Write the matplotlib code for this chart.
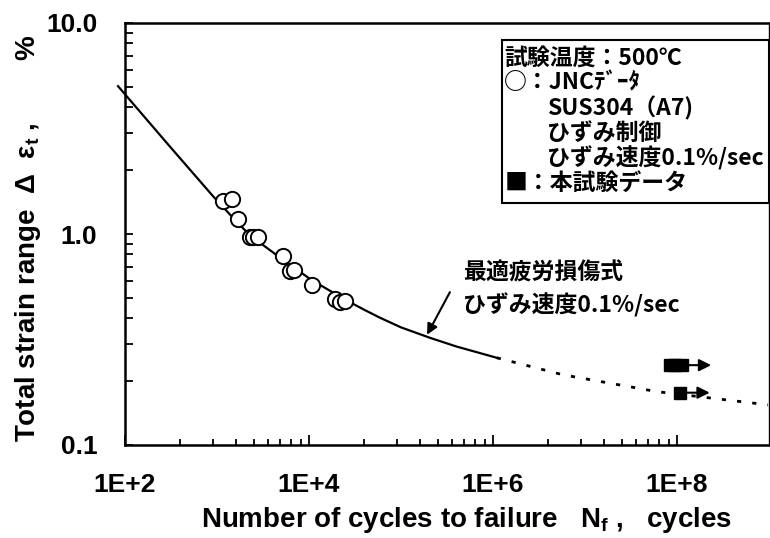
import matplotlib
matplotlib.use("Agg")
import matplotlib.pyplot as plt
from matplotlib.patches import Rectangle
from matplotlib.ticker import FixedLocator, FixedFormatter, NullFormatter

plt.rcParams["font.family"] = ["Liberation Sans", "DejaVu Sans"]
plt.rcParams["font.weight"] = "bold"
plt.rcParams["mathtext.default"] = "regular"

JP = ["Noto Sans CJK JP", "DejaVu Sans"]

# best-fit fatigue damage curve (strain rate 0.1%/sec)
curve_n = [84, 300, 906, 1500, 2290, 5000, 10500, 24600, 40000, 59100,
           1e5, 2.07e5, 4e5, 1.1e6]
curve_eps = [5.02, 2.63, 1.51, 1.19, 0.984, 0.765, 0.608, 0.489, 0.437, 0.401,
             0.361, 0.322, 0.293, 0.259]
# extrapolated part of the curve
extra_n = [1.1e6, 5.8e6, 6.07e7, 9.75e8]
extra_eps = [0.259, 0.215, 0.179, 0.155]

# JNC data, SUS304 (A7), strain controlled
jnc_n = [1150, 1470, 1680, 2290, 2490, 2810, 5260, 6210, 6920, 10700, 19200, 21700, 24600]
jnc_eps = [1.44, 1.47, 1.18, 0.97, 0.97, 0.97, 0.79, 0.67, 0.675, 0.575, 0.49, 0.475, 0.48]

# present test data (run-outs)
test_n = [8.3e7, 9.5e7, 1.12e8, 1.08e8]
test_eps = [0.239, 0.239, 0.239, 0.177]

x_major = [1e2, 1e4, 1e6, 1e8]
x_labels = ["1E+2", "1E+4", "1E+6", "1E+8"]
y_major = [0.1, 1.0, 10.0]
y_labels = ["0.1", "1.0", "10.0"]

fig = plt.figure(figsize=(7.7, 5.38), dpi=100)
ax = fig.add_axes([125 / 770, 93 / 538, 644 / 770, 422 / 538])
ax.set_xscale("log")
ax.set_yscale("log")
ax.set_xlim(1e2, 1e9)
ax.set_ylim(0.1, 10.0)

ax.plot(curve_n, curve_eps, color="black", lw=1.6, clip_on=False, zorder=2)
ax.plot(extra_n, extra_eps, color="black", lw=2.0, dashes=(1.5, 4), zorder=2)
ax.plot(jnc_n, jnc_eps, "o", ms=11, mfc="white", mec="black", mew=1.4, zorder=3)
ax.plot(test_n, test_eps, "s", ms=9, color="black", zorder=3)

# run-out arrows
for n, e in [(test_n[2], test_eps[2]), (test_n[3], test_eps[3])]:
    ax.annotate("", xy=(n * 2.1, e), xytext=(n * 1.05, e),
                arrowprops=dict(arrowstyle="-|>", color="black", lw=1.5,
                                mutation_scale=18, shrinkA=0, shrinkB=0))

# axis ticks: log-100 decades with minor ticks at k^2 spacing
x_minor = [b * k * k for b in [1e2, 1e4, 1e6] for k in range(2, 10)]
ax.xaxis.set_major_locator(FixedLocator(x_major))
ax.xaxis.set_major_formatter(FixedFormatter(x_labels))
ax.xaxis.set_minor_locator(FixedLocator(x_minor))
ax.xaxis.set_minor_formatter(NullFormatter())
ax.yaxis.set_major_locator(FixedLocator(y_major))
ax.yaxis.set_major_formatter(FixedFormatter(y_labels))
ax.yaxis.set_minor_locator(FixedLocator([b * k for b in [0.1, 1.0] for k in range(2, 10)]))
ax.yaxis.set_minor_formatter(NullFormatter())

ax.tick_params(which="both", direction="in", top=False, right=False, width=1.3)
ax.tick_params(axis="x", which="major", length=7, pad=20, labelsize=19)
ax.tick_params(axis="x", which="minor", length=4)
ax.tick_params(axis="y", which="major", length=6, pad=20, labelsize=19)
ax.tick_params(axis="y", which="minor", length=6)
for s in ["left", "bottom", "top"]:
    ax.spines[s].set_linewidth(1.8)
ax.spines["right"].set_linewidth(1.0)

ax.set_xlabel("Number of cycles to failure   N$_{f}$ ,   cycles",
              fontsize=20, fontweight="bold")
ax.set_ylabel("Total strain range  Δ  ε$_{t}$ ,        %",
              fontsize=20, fontweight="bold")
ax.xaxis.set_label_coords(0.53, -0.143)
ax.yaxis.set_label_coords(-0.127, 0.49)

# legend box
ax.add_patch(Rectangle((0.585, 0.573), 0.415, 0.387, transform=ax.transAxes,
                       fill=False, lw=1.5, ec="black", zorder=4))
legend_lines = [
    (0.589, 0.917, "試験温度：500℃"),
    (0.589, 0.858, "○：JNCﾃﾞｰﾀ"),
    (0.655, 0.799, "SUS304（A7)"),
    (0.655, 0.739, "ひずみ制御"),
    (0.655, 0.680, "ひずみ速度0.1%/sec"),
    (0.589, 0.621, "■：本試験データ"),
]
for x, y, t in legend_lines:
    ax.text(x, y, t, transform=ax.transAxes, family=JP, weight="bold",
            fontsize=16.5, va="center", ha="left")

ax.text(0.525, 0.408, "最適疲労損傷式", transform=ax.transAxes, family=JP,
        weight="bold", fontsize=16.5, va="center", ha="left")
ax.text(0.525, 0.332, "ひずみ速度0.1%/sec", transform=ax.transAxes, family=JP,
        weight="bold", fontsize=16.5, va="center", ha="left")
ax.annotate("", xy=(1.92e5, 0.333), xytext=(3.4e5, 0.53),
            arrowprops=dict(arrowstyle="-|>", color="black", lw=1.5,
                            mutation_scale=16, shrinkA=0, shrinkB=0))

fig.savefig("out.png", dpi=100)
